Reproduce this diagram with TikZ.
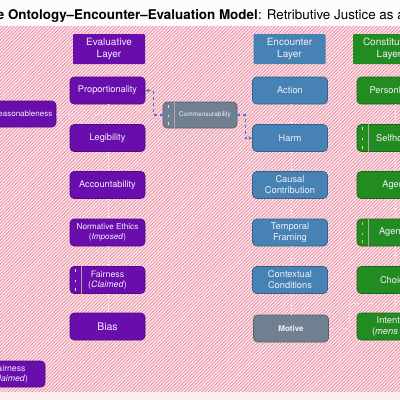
\documentclass[tikz,border=0pt]{standalone}
\usepackage{fontspec}
\setmainfont{TeX Gyre Heros}
\usetikzlibrary{arrows.meta, patterns.meta}

\definecolor{evalpurple}{HTML}{6A0DAD}
\definecolor{encblue}{HTML}{4682B4}
\definecolor{constgreen}{HTML}{228B22}
\definecolor{slate}{HTML}{708090}
\definecolor{hatchbase}{HTML}{FCE6EA}
\definecolor{hatchpink}{HTML}{E890A6}
\definecolor{linkblue}{HTML}{5A6FC6}
\definecolor{nodetext}{HTML}{F4F0FA}
\definecolor{titlebg}{HTML}{FEFBFC}
\definecolor{bottombg}{HTML}{FCEEF1}

\begin{document}
\begin{tikzpicture}[x=1pt, y=-1pt,
    box/.style={rounded corners=4pt, minimum width=75pt, minimum height=27pt, inner sep=2pt,
        align=center, text=nodetext, line width=0.6pt, font=\fontsize{9.3}{11}\selectfont},
    evalbox/.style={box, fill=evalpurple, draw=evalpurple!75!black,
        font=\fontsize{9.2}{11}\selectfont},
    encbox/.style={box, fill=encblue, draw=encblue!75!black},
    constbox/.style={box, fill=constgreen, draw=constgreen!75!black},
    greybox/.style={box, fill=slate, draw=slate!75!black},
    header/.style={box, minimum width=72pt, minimum height=30pt, rounded corners=1pt,
        font=\fontsize{10}{12}\selectfont},
    stripe/.style={nodetext!70!black, line width=0.5pt},
    colink/.style={white, dotted, line width=0.9pt},
    faint/.style={white!75!hatchpink, dotted, line width=0.8pt},
    commarrow/.style={linkblue, dashed, line width=1.1pt, -{Stealth[length=4pt, width=4pt]}},
]
    % Background and hatched canvas
    \fill[titlebg] (0,0) rectangle (400,26);
    \fill[hatchbase] (0,26) rectangle (400,392);
    \fill[pattern={Lines[angle=45, distance=2.4pt, line width=0.8pt]}, pattern color=hatchpink]
        (0,26) rectangle (400,392);
    \fill[bottombg] (0,392) rectangle (400,400);
    \useasboundingbox (0,0) rectangle (400,400);

    % Title
    \node[anchor=base east, inner sep=0pt, font=\fontsize{13.4}{16}\selectfont\bfseries]
        (titlebold) at (258,19) {The Ontology–Encounter–Evaluation Model};
    \node[anchor=base west, inner sep=0pt, font=\fontsize{13.4}{16}\selectfont]
        (titlerest) at (titlebold.base east) {: Retributive Justice as a};

    % Layer headers
    \node[header, fill=evalpurple] (evalhead) at (109,49) {Evaluative\\Layer};
    \node[header, fill=encblue] (enchead) at (289.5,49) {Encounter\\Layer};
    \node[header, fill=constgreen] (consthead) at (389,49) {Constitutive\\Layer};

    % Evaluative layer
    \node[evalbox] (prop) at (107.5,90.5) {Proportionality};
    \node[evalbox] (legi) at (107.5,138) {Legibility};
    \node[evalbox] (acct) at (107.5,185) {Accountability};
    \node[evalbox, font=\fontsize{8.2}{10}\selectfont] (norm) at (107.5,232.5)
        {Normative Ethics\\(\textit{Imposed})};
    \node[evalbox, font=\fontsize{8.8}{10.5}\selectfont] (fairA) at (107.5,280)
        {Fairness\\(\textit{Claimed})};
    \node[evalbox, font=\fontsize{10.5}{12}\selectfont] (bias) at (107.5,326.5) {Bias};

    % Nodes cut by the left edge
    \node[evalbox, minimum width=67pt, minimum height=26pt, font=\fontsize{8}{10}\selectfont]
        (reas) at (22.5,114) {Reasonableness};
    \node[evalbox, minimum width=72pt, minimum height=26pt, font=\fontsize{8.7}{10}\selectfont]
        (fairB) at (9,374) {Fairness\\(\textit{Claimed})};

    % Encounter layer
    \node[encbox] (action) at (290,90.5) {Action};
    \node[encbox] (harm) at (290,138) {Harm};
    \node[encbox] (causal) at (290,185) {Causal\\Contribution};
    \node[encbox] (temporal) at (290,232.5) {Temporal\\Framing};
    \node[encbox] (context) at (290,280) {Contextual\\Conditions};
    \node[greybox, font=\fontsize{8}{10}\selectfont\bfseries] (motive) at (291,328.5) {Motive};

    % Constitutive layer
    \node[constbox] (person) at (394.5,90.5) {Personhood};
    \node[constbox] (self) at (394.5,138) {Selfhood};
    \node[constbox] (agent) at (394.5,185) {Agent};
    \node[constbox] (agency) at (394.5,232.5) {Agency};
    \node[constbox] (choice) at (394.5,280) {Choice};
    \node[constbox] (intent) at (394.5,326.5) {Intention\\(\textit{mens rea})};

    % Bridge node
    \node[greybox, minimum width=74pt, minimum height=26pt, font=\fontsize{6.5}{8}\selectfont]
        (comm) at (200,115) {\hspace{10pt}Commensurability};

    % Side stripes with small marks
    \foreach \n/\c in {fairA/pink, comm/pink, self/yellow, agency/orange} {
        \draw[stripe] ([xshift=12pt]\n.north west) -- ([xshift=12pt]\n.south west);
        \draw[\c!60!white, line width=0.6pt] ([xshift=6pt,yshift=-6pt]\n.north west) -- ++(0,-3);
        \draw[\c!60!white, line width=0.6pt] ([xshift=6pt]\n.west) -- ++(0,2);
        \draw[\c!60!white, line width=0.6pt] ([xshift=6pt,yshift=6pt]\n.south west) -- ++(0,3);
    }

    % Column links
    \foreach \a/\b in {prop/legi, legi/acct, acct/norm, norm/fairA, fairA/bias,
            action/harm, harm/causal, causal/temporal, temporal/context, context/motive,
            person/self, self/agent, agent/agency, agency/choice, choice/intent}
        \draw[colink] ([xshift=1pt]\a.south) -- ([xshift=1pt]\a.south |- \b.north);

    % Faint cross links
    \coordinate (motjoin) at (397,303);
    \draw[faint] (reas.east) -- (reas.east -| prop.south);
    \draw[faint] (motive.east) -- ++(21,0) |- (motjoin);

    % Commensurability links
    \draw[commarrow] (comm.west) -- ++(-9,0) |- (prop.east);
    \draw[commarrow] (comm.east) -- ++(8,0) |- (harm.west);
\end{tikzpicture}
\end{document}
